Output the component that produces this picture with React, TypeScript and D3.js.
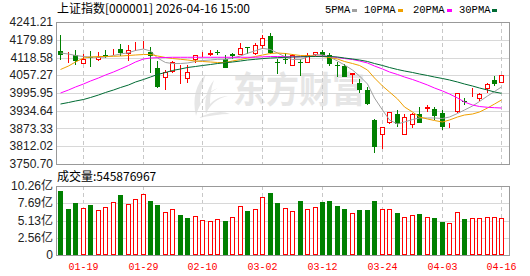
import React from "react";
import * as d3 from "d3";

// ---------- data ----------
const dates = [
  "01-14","01-15","01-16","01-19","01-20","01-21","01-22","01-23","01-26","01-27",
  "01-28","01-29","01-30","02-02","02-03","02-04","02-05","02-06","02-09","02-10",
  "02-11","02-12","02-13","02-24","02-25","02-26","02-27","03-02","03-03","03-04",
  "03-05","03-06","03-09","03-10","03-11","03-12","03-13","03-16","03-17","03-18",
  "03-19","03-20","03-23","03-24","03-25","03-26","03-27","03-30","03-31","04-01",
  "04-02","04-03","04-07","04-08","04-09","04-10","04-13","04-14","04-15","04-16",
];
const openP = [
  4140.0,4110,4127.2,4096.1,4122,4108.9,4127,4137,4149,4130.7,
  4151,4156,4137,4082.3,4047.8,4068.5,4072,4043.3,4111,4128,
  4128,4138,4114,4130.7,4128.2,4155,4131.7,4157.3,4192.8,4103,
  4112,4090,4102,4101.3,4127,4138,4127.2,4094,4089.2,4057.1,
  4029.5,4006.3,3902.7,3850.9,3891.3,3923.4,3850.9,3885,3923,3940,
  3939.7,3928.3,3884,3931.4,3968,3984,3974.9,4008.7,4040.9,4031.5,
];
const highP = [
  4195.3,4136,4144.5,4130.7,4140,4137.6,4144,4149,4165.2,4160.7,
  4172,4176,4155,4105.5,4074.4,4106.5,4091,4093.7,4128.3,4138,
  4143,4143,4126,4134,4169.7,4155.5,4169.7,4197.3,4204.2,4115,
  4133,4129,4115,4133,4139,4144,4133,4104,4096,4066.5,
  4043,4017.7,3906,3878,3930,3937,3923,3928,3949,3955,
  3948,3937,3893,3997,3977,4012,3997,4029,4054.7,4058.1,
];
const lowP = [
  4108.9,4100,4093.7,4096,4085,4107.5,4117,4126,4122.7,4105.5,
  4142,4147,4066,4013.2,4005.3,4065,4027,4030.5,4099.6,4120,
  4124,4126,4082,4114,4126,4131.7,4128.2,4149,4130,4060,
  4095,4088,4056,4100,4125,4124,4089.2,4050,4050,4026,
  3995,3954.5,3789.7,3804,3890,3880,3850,3874,3891,3932,
  3902,3868,3874,3928,3954,3983,3968,3995,4020,4031,
];
const closeP = [
  4128.2,4112,4105.4,4114.4,4119,4119.3,4125,4139,4134.1,4143.5,
  4153,4158,4124,4016.7,4068.5,4103,4074,4068.5,4126.2,4130,
  4135,4136,4084,4122.7,4151.4,4154,4162.8,4185.9,4134,4100,
  4109,4127,4100,4127.2,4136,4127,4096.1,4092,4052.4,4066.3,
  4006.3,3956.9,3810.5,3877.5,3928.6,3889.6,3912,3923.4,3891,3946,
  3916.6,3879.5,3886,3994.9,3966,3986,3992.2,4027,4027,4058.1,
];
const ma5 = [
  4134.1,4130.7,4125.5,4122.0,4120.3,4118.6,4120.3,4125.5,4130.7,4135.2,
  4142.8,4147.9,4141.0,4116.8,4101.3,4097.8,4097.8,4099.6,4104.8,4108.2,
  4109.9,4112.4,4112.4,4116.8,4123.8,4133.1,4142.1,4150.4,4146.2,4134.1,
  4120.3,4111.7,4111.7,4120.3,4128.9,4127.2,4120.3,4106.5,4092.7,4075.4,
  4054.7,4027.0,3978.6,3937.2,3902.7,3888.9,3895.8,3904.4,3909.6,3909.6,
  3909.6,3907.9,3913.0,3925.1,3937.2,3951.0,3966.6,3985.6,4001.1,4016.7,
];
const ma10 = [
  4077.1,4089.2,4103.0,4116.8,4120.3,4122.0,4122.0,4122.7,4123.8,4125.5,
  4127.2,4128.9,4128.9,4123.8,4118.6,4115.1,4112.4,4109.9,4106.5,4104.8,
  4103.0,4101.3,4101.3,4106.5,4111.7,4116.8,4122.0,4127.2,4132.4,4134.1,
  4132.4,4128.9,4125.5,4124.8,4123.8,4122.0,4118.6,4113.4,4104.8,4097.8,
  4091.0,4075.4,4047.8,4020.1,3999.4,3975.4,3947.6,3930.3,3913.0,3906.1,
  3900.9,3895.8,3902.7,3913.0,3919.9,3923.4,3930.3,3944.1,3957.9,3971.8,
];
const ma20 = [
  3995.9,4006.3,4016.7,4027.0,4037.4,4047.8,4058.1,4068.5,4078.9,4090.9,
  4103.0,4113.4,4116.8,4117.9,4118.6,4119.3,4119.3,4119.3,4119.3,4119.3,
  4119.3,4119.3,4119.3,4119.3,4119.3,4119.3,4119.3,4121.0,4122.0,4122.0,
  4121.0,4121.0,4121.3,4122.0,4122.7,4123.1,4122.0,4118.6,4115.1,4111.7,
  4106.5,4099.6,4089.2,4078.9,4068.5,4059.9,4051.2,4042.6,4034.0,4023.6,
  4013.2,4002.9,3992.5,3978.7,3964.9,3954.5,3949.3,3946.6,3945.2,3944.1,
];
const ma30 = [
  3957.9,3963.1,3968.3,3973.5,3980.4,3989.0,3997.7,4006.3,4014.9,4023.6,
  4033.9,4042.6,4051.2,4059.9,4066.8,4073.7,4078.9,4084.0,4087.5,4090.9,
  4094.4,4097.8,4100.6,4103.0,4106.5,4109.9,4112.4,4114.8,4116.8,4117.9,
  4119.3,4120.3,4121.0,4121.7,4122.0,4122.4,4122.0,4120.3,4116.8,4113.4,
  4109.9,4104.8,4097.8,4091.0,4084.0,4077.1,4071.9,4066.8,4061.6,4056.4,
  4051.2,4046.0,4040.9,4033.9,4027.0,4020.1,4013.2,4006.3,3999.4,3994.9,
];
// volume in 亿 shares
const volume = [
  9.56,6.84,7.78,6.94,7.43,6.69,7.09,7.83,8.92,7.58,
  8.28,9.07,8.03,7.43,6.35,6.79,5.95,5.45,5.80,5.20,
  5.01,5.31,5.06,5.60,7.29,6.54,6.84,8.58,9.26,7.78,
  6.99,6.54,8.07,6.84,7.14,7.93,8.03,7.33,6.84,6.25,
  6.69,6.69,8.07,6.84,6.84,6.29,5.65,5.99,6.14,5.65,
  5.50,4.91,4.76,6.39,5.35,5.45,5.45,5.60,5.65,5.4588,
];
// volume bar colour: 1 = up (red), 0 = down (green)
const volUp = [
  0,0,0,1,0,1,1,1,0,1,
  1,1,0,0,1,1,0,0,1,1,
  1,1,0,1,1,0,1,1,0,0,
  1,1,0,1,1,0,0,0,0,1,
  0,0,0,1,1,0,1,1,0,1,
  0,0,1,1,0,1,1,1,1,1,
];
const priceTicks = [4241.21,4179.89,4118.58,4057.27,3995.95,3934.64,3873.33,3812.02,3750.70];
const volTicks = [10.26, 7.695, 5.13, 2.565, 0];
const volTickLabels = ["10.26亿","7.69亿","5.13亿","2.56亿","0"];
const xTickLabels = ["01-19","01-29","02-10","03-02","03-12","03-24","04-03","04-16"];
const maNames = ["5PMA","10PMA","20PMA","30PMA"];
const maColors = ["#a0a0a0","#f0a000","#ff00ff","#006b33"];
const title = "上证指数[000001] 2026-04-16 15:00";
const volTitle = "成交量:545876967";

// ---------- layout ----------
const W = 530, H = 276;
const L = 56, R = 509;
const PT = 22, PB = 164;
const VT = 186, VB = 255;
const RED = "#ff0000", GREEN = "#008000";
const BORDER = "#999999", GRID = "#d8d8d8";

export default function App() {
  const x = d3.scaleBand<string>().domain(dates).range([56.55, 505.2]).paddingInner(0);
  const cx = (i: number) => Math.round((x(dates[i]) as number) + x.bandwidth() / 2);
  const y = d3.scaleLinear().domain([3750.70, 4241.21]).range([PB, PT]);
  const vy = d3.scaleLinear().domain([0, 10.26]).range([VB, VT]);
  const snap = (v: number) => Math.round(v) + 0.5;

  const mas = [ma5, ma10, ma20, ma30];
  const lineGen = (arr: number[]) =>
    d3.line<number>().x((_, i) => cx(i) + 0.5).y((d) => y(d))(arr) || "";

  const legendX = [325, 364, 413, 459];
  const swatchX = [352, 398, 447, 492];

  return (
    <svg width={W} height={H} style={{ position: "absolute", left: 0, top: 0, background: "#fff" }}
      fontFamily="'Liberation Sans', Arial, sans-serif">
      <rect x={0} y={0} width={W} height={H} fill="#fff" />
      {/* watermark */}
      <g fill="#e6e6e6">
        <path d="M206,74 C196,84 192,98 196,116 C199,104 206,94 218,88 C208,92 203,98 200,104 C200,92 203,82 206,74 Z" />
        <path d="M214,80 C206,90 204,102 206,114 C210,104 218,98 228,96 C220,96 214,100 210,104 C210,96 211,88 214,80 Z" />
        <path d="M198,118 C210,112 222,110 230,114 C220,114 210,116 198,118 Z" />
        <text x={233} y={103} fontSize={36} fontWeight="bold" textLength={132} lengthAdjust="spacingAndGlyphs"
          fontFamily="'Noto Sans CJK SC', sans-serif">东方财富</text>
      </g>

      {/* header */}
      <text x={57} y={13} fontSize={12} fill="#000" fontFamily="'Noto Sans CJK SC', sans-serif">{title}</text>
      {maNames.map((n, k) => (
        <g key={n}>
          <text x={legendX[k]} y={13} fontSize={10.5} fill="#000" fontFamily="'Liberation Mono', monospace">{n}</text>
          <rect x={swatchX[k]} y={9} width={5} height={3} fill={maColors[k]} />
        </g>
      ))}

      {/* price grid */}
      {priceTicks.map((t) => (
        <g key={t}>
          <line x1={L} x2={R} y1={snap(y(t))} y2={snap(y(t))} stroke={GRID} />
          <text x={53} y={y(t)} dy="0.35em" textAnchor="end" fontSize={12} fill="#222">{t.toFixed(2)}</text>
        </g>
      ))}
      {xTickLabels.map((lab) => {
        const i = dates.indexOf(lab);
        const xx = cx(i) + 0.5;
        return (
          <g key={lab}>
            <line x1={xx} x2={xx} y1={PT} y2={PB} stroke="#c8c8c8" strokeDasharray="4,3" />
            <line x1={xx} x2={xx} y1={VT} y2={VB} stroke="#c8c8c8" strokeDasharray="4,3" />
            <text x={xx} y={270} textAnchor="middle" fontSize={10} fill={RED}
              fontFamily="'Liberation Mono', monospace">{lab}</text>
          </g>
        );
      })}
      <rect x={L + 0.5} y={PT + 0.5} width={R - L} height={PB - PT} fill="none" stroke={BORDER} />

      {/* candles */}
      {dates.map((d, i) => {
        const o = openP[i], c = closeP[i], h = highP[i], l = lowP[i];
        const up = c >= o;
        const xc = cx(i);
        const top = Math.round(y(Math.max(o, c)));
        const bot = Math.max(Math.round(y(Math.min(o, c))), top + 1);
        const col = up ? RED : GREEN;
        return (
          <g key={d}>
            <line x1={xc + 0.5} x2={xc + 0.5} y1={Math.round(y(h))} y2={Math.round(y(l))} stroke={col} />
            {up ? (
              <rect x={xc - 1.5} y={top + 0.5} width={4} height={Math.max(bot - top - 1, 0)} fill="#fff" stroke={col} />
            ) : (
              <rect x={xc - 2} y={top} width={5} height={Math.max(bot - top, 1)} fill={col} />
            )}
          </g>
        );
      })}

      {/* moving averages */}
      {mas.map((arr, k) => (
        <path key={k} d={lineGen(arr)} fill="none" stroke={maColors[k]} strokeWidth={1} />
      ))}

      {/* volume panel */}
      <text x={57} y={181} fontSize={12} fill="#000" fontFamily="'Noto Sans CJK SC', sans-serif">{volTitle}</text>
      {volTicks.map((t, k) => (
        <g key={t}>
          <line x1={L} x2={R} y1={snap(vy(t))} y2={snap(vy(t))} stroke={GRID} />
          <text x={53} y={vy(t)} dy="0.35em" textAnchor="end" fontSize={12} fill="#222"
            fontFamily="'Liberation Sans', 'Noto Sans CJK SC', sans-serif">{volTickLabels[k]}</text>
        </g>
      ))}
      <rect x={L + 0.5} y={VT + 0.5} width={R - L} height={VB - VT} fill="none" stroke={BORDER} />
      {dates.map((d, i) => {
        const xc = cx(i);
        const top = Math.round(vy(volume[i]));
        const up = volUp[i] === 1;
        return up ? (
          <rect key={d} x={xc - 1.5} y={top + 0.5} width={4} height={VB - top - 1} fill="#fff" stroke={RED} />
        ) : (
          <rect key={d} x={xc - 2} y={top} width={5} height={VB - top} fill={GREEN} />
        );
      })}
    </svg>
  );
}
